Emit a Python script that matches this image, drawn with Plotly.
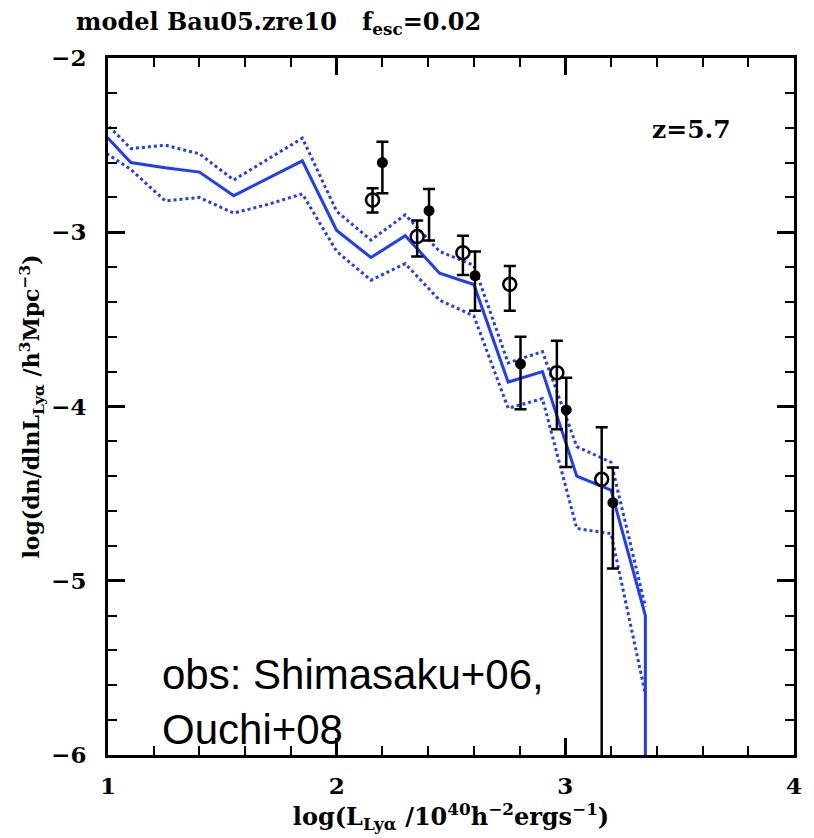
import plotly.graph_objects as go

# Model luminosity function (median and spread), log L bins
model_x = [0.95, 1.1, 1.25, 1.4, 1.55, 1.7, 1.85, 2.0, 2.15, 2.3, 2.45, 2.6, 2.75, 2.9, 3.05, 3.2, 3.35, 3.35]
model_mid = [-2.39, -2.60, -2.63, -2.655, -2.79, -2.69, -2.59, -2.99, -3.145, -3.02, -3.235, -3.30, -3.86, -3.80, -4.40, -4.48, -5.20, -6.0]
model_hi_x = [0.95, 1.1, 1.25, 1.4, 1.55, 1.7, 1.85, 2.0, 2.15, 2.3, 2.45, 2.6, 2.75, 2.9, 3.05, 3.2, 3.35]
model_hi = [-2.32, -2.52, -2.50, -2.55, -2.70, -2.58, -2.46, -2.88, -3.045, -2.90, -3.11, -3.19, -3.75, -3.685, -4.23, -4.32, -5.15]
model_lo = [-2.51, -2.64, -2.82, -2.80, -2.89, -2.84, -2.78, -3.11, -3.275, -3.18, -3.39, -3.48, -4.01, -3.955, -4.70, -4.73, -5.65]

# Shimasaku+06 (open circles)
shim_x = [2.157, 2.352, 2.552, 2.757, 2.963, 3.159]
shim_y = [-2.815, -3.025, -3.117, -3.299, -3.806, -4.418]
shim_top = [-2.748, -2.933, -3.020, -3.194, -3.622, -4.119]
shim_bot = [-2.887, -3.139, -3.245, -3.450, -4.131, -9.0]

# Ouchi+08 (filled circles)
ouchi_x = [2.200, 2.404, 2.605, 2.804, 3.004, 3.208]
ouchi_y = [-2.600, -2.876, -3.249, -3.756, -4.020, -4.552]
ouchi_top = [-2.480, -2.752, -3.111, -3.599, -3.835, -4.350]
ouchi_bot = [-2.776, -3.048, -3.450, -4.016, -4.347, -4.929]

x_ticks = [1, 2, 3, 4]
y_ticks = [-2, -3, -4, -5, -6]

BLUE = "rgb(30,60,255)"
SERIF = "DejaVu Serif"

fig = go.Figure()

fig.add_trace(go.Scatter(x=model_hi_x, y=model_hi, mode="lines",
                         line=dict(color=BLUE, width=3, dash="dot"), showlegend=False))
fig.add_trace(go.Scatter(x=model_hi_x, y=model_lo, mode="lines",
                         line=dict(color=BLUE, width=3, dash="dot"), showlegend=False))
fig.add_trace(go.Scatter(x=model_x, y=model_mid, mode="lines",
                         line=dict(color=BLUE, width=3), showlegend=False))


def err(y, top, bot):
    plus = [t - v for v, t in zip(y, top)]
    minus = [v - b for v, b in zip(y, bot)]
    return dict(type="data", symmetric=False, array=plus, arrayminus=minus,
                color="black", thickness=2.5, width=6)


fig.add_trace(go.Scatter(x=shim_x, y=shim_y, mode="markers",
                         marker=dict(symbol="circle-open", size=13, color="black",
                                     line=dict(width=2.5, color="black")),
                         error_y=err(shim_y, shim_top, shim_bot), showlegend=False))
fig.add_trace(go.Scatter(x=ouchi_x, y=ouchi_y, mode="markers",
                         marker=dict(symbol="circle", size=11, color="black"),
                         error_y=err(ouchi_y, ouchi_top, ouchi_bot), showlegend=False))

axis_common = dict(
    showline=True, linecolor="black", linewidth=3, mirror="allticks",
    ticks="inside", ticklen=17, tickwidth=2.5, tickcolor="black",
    showgrid=False, zeroline=False,
    tickfont=dict(family=SERIF, size=23, color="black", weight="bold"),
)

fig.update_xaxes(range=[1, 4], tickvals=x_ticks, ticktext=[str(v) for v in x_ticks],
                 ticklabelstandoff=8,
                 minor=dict(ticks="inside", dtick=0.2, tick0=1, ticklen=9, tickwidth=2, tickcolor="black"),
                 title=dict(text="log(L<sub>Lyα</sub> /10<sup>40</sup>h<sup>−2</sup>ergs<sup>−1</sup>)",
                            font=dict(family=SERIF, size=24, color="black", weight="bold"), standoff=10),
                 **axis_common)
fig.update_yaxes(range=[-6, -2], tickvals=y_ticks, ticklabelstandoff=14,
                 minor=dict(ticks="inside", dtick=0.2, tick0=-6, ticklen=9, tickwidth=2, tickcolor="black"),
                 title=dict(text="log(dn/dlnL<sub>Lyα</sub> /h<sup>3</sup>Mpc<sup>−3</sup>)",
                            font=dict(family=SERIF, size=22, color="black", weight="bold"), standoff=6),
                 **axis_common)

fig.add_annotation(text="model Bau05.zre10&nbsp;&nbsp;&nbsp;f<sub>esc</sub>=0.02",
                   xref="paper", yref="paper", x=-0.049, y=1.05, xanchor="left", yanchor="middle",
                   showarrow=False, font=dict(family=SERIF, size=24, color="black", weight="bold"))
fig.add_annotation(text="z=5.7", xref="paper", yref="paper", x=0.851, y=0.898,
                   xanchor="center", yanchor="middle", showarrow=False,
                   font=dict(family=SERIF, size=25, color="black", weight="bold"))
fig.add_annotation(text="obs: Shimasaku+06,<br>Ouchi+08", xref="paper", yref="paper",
                   x=0.076, y=0.0, xanchor="left", yanchor="bottom", align="left",
                   showarrow=False, font=dict(family="Liberation Sans", size=42, color="black"))

fig.update_layout(width=814, height=838, plot_bgcolor="white", paper_bgcolor="white",
                  margin=dict(l=108, r=14, t=58, b=83))

fig.write_html("out.html")
